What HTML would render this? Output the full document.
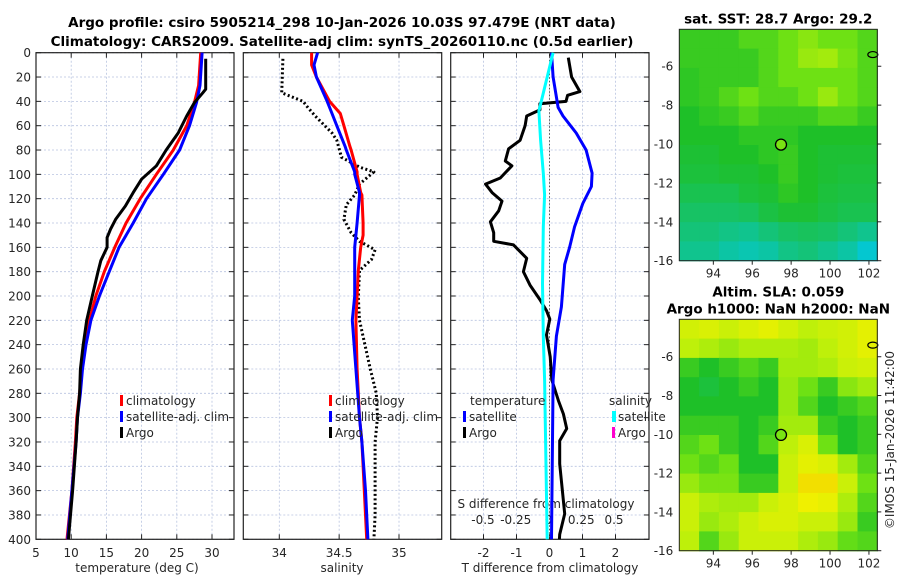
<!DOCTYPE html>
<html><head><meta charset="utf-8"><style>
body{margin:0;background:#fff;}
svg{display:block;font-family:"DejaVu Sans","Liberation Sans",sans-serif;}
.t{font-size:12px;fill:#262626;}
.b{font-weight:bold;font-size:13.5px;fill:#000;}
</style></head><body>
<svg id="c" width="900" height="580" viewBox="0 0 900 580">
<text class="b" x="342" y="27" text-anchor="middle">Argo profile: csiro 5905214_298 10-Jan-2026 10.03S 97.479E (NRT data)</text>
<text class="b" x="342" y="46" text-anchor="middle">Climatology: CARS2009. Satellite-adj clim: synTS_20260110.nc (0.5d earlier)</text>
</svg>
<script>
// ---- data ----
const depthTicks=[0,20,40,60,80,100,120,140,160,180,200,220,240,260,280,300,320,340,360,380,400];
const tempTicks=[5,10,15,20,25,30];
const salTicks=[34,34.5,35];
const dTTicks=[-2,-1,0,1,2];
const dSTicks=[-0.5,-0.25,0,0.25,0.5];
const dSTickLabels=["-0.5","-0.25","0","0.25","0.5"];
const climDepth=[0,27,41,60,80,100,120,140,160,180,200,220,240,260,280,300,320,360,400];
const climTemp=[28.4,28.1,27.5,26.4,24.5,22.1,19.8,17.8,16.2,14.7,13.5,12.6,11.9,11.5,11.2,10.8,10.6,10.1,9.4];
const satTemp=[28.6,28.3,27.8,26.8,25.4,23.1,20.7,18.8,16.8,15.4,14.0,12.8,12.1,11.6,11.3,10.9,10.7,10.1,9.5];
const argoTDepth=[5,30,33,41,52,66,80,93,104,115,126,137,145,152,160,171,180,200,220,240,260,280,300,320,360,400];
const argoTemp=[29.1,29.1,28.7,27.5,26.4,25.2,23.5,22.1,20.0,18.8,17.7,16.3,15.6,15.1,15.1,14.2,13.8,13.0,12.2,11.7,11.3,11.2,10.9,10.7,10.2,9.6];
const salDepth=[0,10,20,40,50,60,77,80,98,100,115,117,140,150,160,179,200,220,260,300,320,360,400];
const climSal=[34.27,34.27,34.31,34.42,34.51,34.54,34.59,34.60,34.65,34.65,34.68,34.69,34.70,34.70,34.68,34.66,34.65,34.64,34.65,34.67,34.69,34.71,34.73];
const satSal=[34.32,34.29,34.31,34.40,34.44,34.48,34.55,34.56,34.63,34.63,34.67,34.67,34.65,34.64,34.63,34.63,34.63,34.61,34.64,34.67,34.69,34.72,34.74];
const argoSDepth=[5,33,40,44,52,66,72,86,94,98,108,117,125,137,148,155,162,170,179,201,220,260,280,300,320,360,380,400];
const argoSal=[34.03,34.02,34.2,34.23,34.30,34.44,34.48,34.52,34.67,34.79,34.67,34.63,34.56,34.54,34.60,34.67,34.80,34.77,34.67,34.66,34.67,34.76,34.81,34.82,34.80,34.80,34.80,34.79];
const dTArgoDepth=[4,20,32,35,40,42,47,52,60,72,79,89,93,103,108,115,122,130,139,148,155,158,169,180,191,203,212,219,232,250,269,286,297,309,319,338,352,379,396,400];
const dTArgo=[0.57,0.67,0.92,0.55,0.5,-0.29,-0.29,-0.69,-0.74,-0.89,-1.24,-1.34,-1.14,-1.49,-1.94,-1.74,-1.44,-1.54,-1.79,-1.69,-1.69,-1.09,-0.69,-0.79,-0.59,-0.29,-0.09,0.01,-0.09,0.02,0.07,0.27,0.42,0.52,0.31,0.31,0.36,0.46,0.31,0.3];
const dTSatDepth=[0,20,45,52,66,80,99,110,124,143,160,174,209,233,269,400];
const dTSat=[0.06,0.11,0.26,0.41,0.81,1.11,1.29,1.27,1.01,0.76,0.61,0.46,0.36,0.21,0.11,0.06];
const dSSatDepth=[0,20,48,72,99,117,143,190,233,269,400];
const dSSat=[0.035,-0.01,-0.073,-0.06,-0.04,-0.03,-0.04,-0.046,-0.04,-0.03,-0.01];
const lonTicks=[94,96,98,100,102];
const latTicks=[-6,-8,-10,-12,-14,-16];
const sstGrid=[
[.5,.5,.5,.55,.55,.6,.65,.6,.6,.55],
[.5,.5,.5,.5,.55,.6,.68,.7,.62,.55],
[.48,.5,.5,.5,.55,.6,.6,.6,.6,.55],
[.48,.5,.55,.6,.55,.55,.6,.68,.6,.55],
[.45,.48,.5,.55,.5,.5,.5,.55,.55,.5],
[.45,.45,.45,.48,.48,.48,.45,.45,.45,.45],
[.42,.42,.45,.45,.48,.5,.45,.42,.42,.42],
[.4,.4,.42,.42,.45,.5,.45,.42,.4,.4],
[.35,.35,.35,.4,.42,.48,.45,.4,.38,.38],
[.3,.3,.3,.32,.38,.42,.42,.38,.35,.35],
[.25,.25,.22,.2,.25,.3,.32,.3,.25,.2],
[.2,.2,.15,.12,.15,.22,.25,.2,.15,.05]];
const slaGrid=[
[.8,.82,.78,.82,.85,.8,.75,.78,.8,.85],
[.75,.72,.68,.72,.72,.72,.7,.75,.8,.85],
[.5,.45,.5,.55,.5,.7,.7,.72,.78,.8],
[.45,.4,.45,.5,.45,.68,.6,.5,.65,.7],
[.45,.45,.45,.45,.45,.68,.55,.45,.5,.55],
[.5,.5,.5,.45,.5,.7,.7,.5,.45,.5],
[.55,.6,.5,.45,.55,.75,.82,.6,.45,.5],
[.6,.55,.6,.45,.45,.78,.85,.82,.7,.55],
[.68,.62,.62,.5,.5,.78,.92,.92,.78,.6],
[.78,.72,.7,.7,.78,.82,.88,.86,.72,.55],
[.78,.68,.72,.78,.82,.82,.78,.78,.68,.5],
[.75,.55,.68,.78,.78,.78,.72,.68,.58,.55]];
const argoLon=97.479, argoLat=-10.03;

// ---- drawing ----
const svg=document.getElementById('c');
const NS='http://www.w3.org/2000/svg';
function mk(tag,attrs,parent){const e=document.createElementNS(NS,tag);for(const k in attrs)e.setAttribute(k,attrs[k]);(parent||svg).appendChild(e);return e;}
const Y0=52.7,Y1=539.3;
const yD=d=>Y0+(d/400)*(Y1-Y0);
function panel(name){
  const g=mk('g',{});
  
  
  return g;
}
function frame(g,x0,x1,vgrid){
  vgrid.forEach(x=>{const l=mk('line',{x1:x,x2:x,y1:Y0,y2:Y1,stroke:'#b8c4e0','stroke-width':0.8,'stroke-dasharray':'2,2'},g);
    
    });
  depthTicks.forEach(d=>{const y=yD(d);
    const l=mk('line',{x1:x0,x2:x1,y1:y,y2:y,stroke:'#b8c4e0','stroke-width':0.8,'stroke-dasharray':'2,2'},g);
    
    
    mk('line',{x1:x0,x2:x0+5,y1:y,y2:y,stroke:'#222'},g);
    mk('line',{x1:x1-5,x2:x1,y1:y,y2:y,stroke:'#222'},g);});
  vgrid.forEach(x=>{mk('line',{x1:x,x2:x,y1:Y1,y2:Y1-5,stroke:'#222'},g);mk('line',{x1:x,x2:x,y1:Y0,y2:Y0+5,stroke:'#222'},g);});
  const r=mk('rect',{x:x0,y:Y0,width:x1-x0,height:Y1-Y0,fill:'none',stroke:'#222','stroke-width':1.2},g);
  
  
}
function line(g,xs,ds,fx,color,w,name,dash){
  const pts=xs.map((v,i)=>fx(v).toFixed(1)+','+yD(ds[i]).toFixed(1)).join(' ');
  const p=mk('polyline',{points:pts,fill:'none',stroke:color,'stroke-width':w,'stroke-linejoin':'round'},g);
  if(dash){p.setAttribute('stroke-dasharray',dash);}
  
  
}
function txt(g,x,y,s,anchor,name,size,extra){
  const t=mk('text',{x:x,y:y,'text-anchor':anchor||'start',class:'t'},g);
  if(size)t.setAttribute('font-size',size);
  if(extra)for(const k in extra)t.setAttribute(k,extra[k]);
  t.textContent=s;
  
  
  return t;
}
function legendEntry(g,x,y,color,label,name,w){
  const m=mk('rect',{x:x,y:y-10,width:w||3,height:11,fill:color},g);
  
  
  const t=txt(g,x+6,y,label,'start',name,13.5);
  t.setAttribute('fill','#000');
}
// Panel 1: temperature
const xT=v=>36+(v-5)*7.04;
const p1=panel('temperature-panel');
frame(p1,36,234,tempTicks.map(xT));
depthTicks.forEach(d=>txt(p1,31,yD(d)+4.5,String(d),'end','depth-tick-label',13));
tempTicks.forEach(t=>txt(p1,xT(t),557,String(t),'middle','temperature-tick-label',13));
txt(p1,137,572,'temperature (deg C)','middle','x-axis-title-temperature',14);
line(p1,climTemp,climDepth,xT,'#ff0000',3,'climatology-temperature-line');
line(p1,satTemp,climDepth,xT,'#0000ff',3,'satellite-temperature-line');
line(p1,argoTemp,argoTDepth,xT,'#000',3,'argo-temperature-line');
legendEntry(p1,120,405,'#ff0000','climatology','legend-climatology');
legendEntry(p1,120,421,'#0000ff','satellite-adj. clim','legend-satellite');
legendEntry(p1,120,437,'#000','Argo','legend-argo');
// Panel 2: salinity
const xS=v=>279.3+(v-34)*119.7;
const p2=panel('salinity-panel');
frame(p2,243.3,441.7,salTicks.map(xS));
salTicks.forEach(t=>txt(p2,xS(t),557,String(t),'middle','salinity-tick-label',13));
txt(p2,342,572,'salinity','middle','x-axis-title-salinity',14);
line(p2,argoSal,argoSDepth,xS,'#000',3,'argo-salinity-line','2,2.5');
line(p2,climSal,salDepth,xS,'#ff0000',3,'climatology-salinity-line');
line(p2,satSal,salDepth,xS,'#0000ff',3,'satellite-salinity-line');
legendEntry(p2,329,405,'#ff0000','climatology','legend-climatology-sal');
legendEntry(p2,329,421,'#0000ff','satellite-adj. clim','legend-satellite-sal');
legendEntry(p2,329,437,'#000','Argo','legend-argo-sal');
// Panel 3: differences
const xdT=v=>549.5+v*33;
const xdS=v=>548.5+v*131;
const p3=panel('difference-panel');
frame(p3,450.7,649,dTTicks.map(xdT));
const zl=mk('line',{x1:549.5,x2:549.5,y1:Y0,y2:Y1,stroke:'#555','stroke-width':1,'stroke-dasharray':'1.5,2'},p3);


dTTicks.forEach(t=>txt(p3,xdT(t),557,String(t),'middle','dT-tick-label',13));
txt(p3,550,572,'T difference from climatology','middle','x-axis-title-T-difference',14);
txt(p3,546,508,'S difference from climatology','middle','S-axis-title',14);
dSTicks.forEach((t,i)=>txt(p3,xdS(t),524,dSTickLabels[i],'middle','dS-tick-label',13));
line(p3,dTArgo,dTArgoDepth,xdT,'#000',3,'argo-T-difference-line');
line(p3,dTSat,dTSatDepth,xdT,'#0000ff',3,'satellite-T-difference-line');
line(p3,dSSat,dSSatDepth,xdS,'#00ffff',3,'satellite-S-difference-line');
txt(p3,470,405,'temperature','start','legend-temperature-header',13.5);
legendEntry(p3,463,421,'#0000ff','satellite','legend-T-satellite');
legendEntry(p3,463,437,'#000','Argo','legend-T-argo');
txt(p3,609,405,'salinity','start','legend-salinity-header',13.5);
legendEntry(p3,612,421,'#00ffff','satellite','legend-S-satellite',4);
legendEntry(p3,612,437,'#ff00cc','Argo','legend-S-argo');
// colormap
const stops=[[0,[0,200,230]],[0.25,[20,195,120]],[0.45,[30,192,40]],[0.6,[110,225,20]],[0.75,[190,240,10]],[0.88,[240,240,0]],[1,[245,190,0]]];
function cmap(v){for(let i=1;i<stops.length;i++){if(v<=stops[i][0]){const a=stops[i-1],b=stops[i],t=(v-a[0])/(b[0]-a[0]);return 'rgb('+a[1].map((c,k)=>Math.round(c+(b[1][k]-c)*t)).join(',')+')';}}return 'rgb(245,190,0)';}
function map(name,grid,x0,x1,y0,y1,latTop,latBot,title){
  const g=panel(name);
  const lonL=92.25,lonR=102.43;
  const xL=v=>x0+(v-lonL)/(lonR-lonL)*(x1-x0);
  const yL=v=>y0+(latTop-v)/(latTop-latBot)*(y1-y0);
  const rows=grid.length,cols=grid[0].length;
  const cw=(x1-x0)/cols,ch=(y1-y0)/rows;
  grid.forEach((row,r)=>row.forEach((v,c)=>{
    const cell=mk('rect',{x:(x0+c*cw).toFixed(1),y:(y0+r*ch).toFixed(1),width:(cw+0.6).toFixed(1),height:(ch+0.6).toFixed(1),fill:cmap(v)},g);
    
    
  }));
  const ctr=mk('ellipse',{cx:xL(102.2),cy:yL(-5.4),rx:5,ry:3,fill:'none',stroke:'#000','stroke-width':1.2},g);
  
  
  const pt=mk('circle',{cx:xL(argoLon),cy:yL(argoLat),r:5.5,fill:cmap(0.62),stroke:'#000','stroke-width':1.3},g);
  
  
  const fr=mk('rect',{x:x0,y:y0,width:x1-x0,height:y1-y0,fill:'none',stroke:'#222','stroke-width':1},g);
  
  
  latTicks.forEach(l=>{const y=yL(l);mk('line',{x1:x1,x2:x1+4,y1:y,y2:y,stroke:'#222'},g);txt(g,x0-6,y+4.5,String(l),'end','latitude-tick-label',13);});
  lonTicks.forEach(l=>{const x=xL(l);mk('line',{x1:x,x2:x,y1:y1,y2:y1+4,stroke:'#222'},g);txt(g,x,y1+17,String(l),'middle','longitude-tick-label',13);});
  title.forEach((s,i)=>{const t=mk('text',{x:(x0+x1)/2,y:y0-6-(title.length-1-i)*17,'text-anchor':'middle',class:'b'},g);t.textContent=s;
    
    });
}
map('sst-map',sstGrid,679.3,877.3,29.3,260.7,-4.1,-16,['sat. SST: 28.7 Argo: 29.2']);
map('sla-map',slaGrid,679.3,877.3,319.3,550.7,-4.07,-16,['Altim. SLA: 0.059','Argo h1000: NaN h2000: NaN']);
const cp=txt(svg,0,0,'©IMOS 15-Jan-2026 11:42:00','middle','copyright-timestamp',13.5,{transform:'translate(894,440) rotate(-90)'});
cp.setAttribute('fill','#000');
</script>
</body></html>
